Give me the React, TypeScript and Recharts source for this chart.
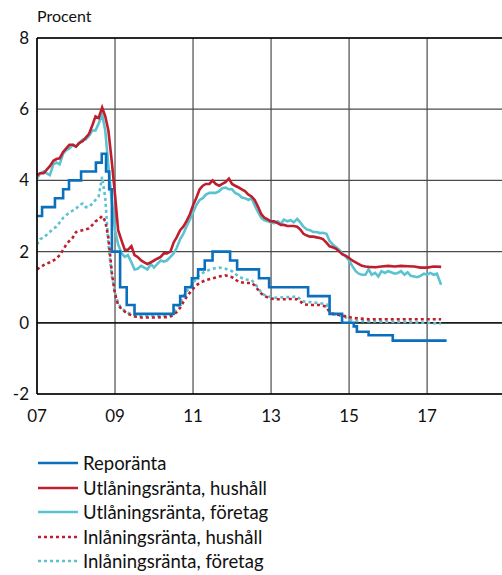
import { LineChart, Line, XAxis, YAxis, CartesianGrid, ReferenceLine } from 'recharts'

// Räntor, procent. Punkter: [år, värde].
const reporanta: [number, number][] = [
  [2007.0, 3.0], [2007.13, 3.25], [2007.46, 3.5], [2007.67, 3.75], [2007.82, 4.0],
  [2008.13, 4.25], [2008.51, 4.5], [2008.66, 4.75], [2008.77, 4.25], [2008.85, 3.75],
  [2008.92, 2.0], [2009.13, 1.0], [2009.3, 0.5], [2009.5, 0.25], [2010.5, 0.5],
  [2010.67, 0.75], [2010.8, 1.0], [2010.97, 1.25], [2011.13, 1.5], [2011.3, 1.75],
  [2011.5, 2.0], [2011.95, 1.75], [2012.13, 1.5], [2012.69, 1.25], [2012.95, 1.0],
  [2013.95, 0.75], [2014.5, 0.25], [2014.82, 0.0], [2015.12, -0.1], [2015.2, -0.25],
  [2015.5, -0.35], [2016.12, -0.5], [2017.5, -0.5],
]

const utlHushall: [number, number][] = [
  [2007.0, 4.15], [2007.08, 4.2], [2007.17, 4.2], [2007.25, 4.3], [2007.33, 4.4],
  [2007.42, 4.55], [2007.5, 4.6], [2007.58, 4.62], [2007.67, 4.8], [2007.75, 4.9],
  [2007.83, 5.0], [2007.92, 5.0], [2008.0, 4.95], [2008.08, 5.05], [2008.17, 5.1],
  [2008.25, 5.2], [2008.33, 5.3], [2008.42, 5.55], [2008.5, 5.8], [2008.58, 5.75],
  [2008.67, 6.05], [2008.75, 5.8], [2008.83, 5.4], [2008.92, 4.5], [2009.0, 3.6],
  [2009.08, 2.6], [2009.17, 2.3], [2009.25, 2.05], [2009.33, 2.05], [2009.42, 2.15],
  [2009.5, 1.9], [2009.58, 1.85], [2009.67, 1.75], [2009.75, 1.7], [2009.83, 1.65],
  [2009.92, 1.7], [2010.0, 1.75], [2010.08, 1.8], [2010.17, 1.85], [2010.25, 1.95],
  [2010.33, 1.95], [2010.42, 2.0], [2010.5, 2.25], [2010.58, 2.4], [2010.67, 2.6],
  [2010.75, 2.7], [2010.83, 2.85], [2010.92, 3.05], [2011.0, 3.3], [2011.08, 3.5],
  [2011.17, 3.75], [2011.25, 3.85], [2011.33, 3.9], [2011.42, 3.9], [2011.5, 4.0],
  [2011.58, 3.9], [2011.67, 3.85], [2011.75, 3.9], [2011.83, 3.95], [2011.92, 4.05],
  [2012.0, 3.9], [2012.08, 3.85], [2012.17, 3.8], [2012.25, 3.75], [2012.33, 3.7],
  [2012.42, 3.6], [2012.5, 3.55], [2012.58, 3.45], [2012.67, 3.25], [2012.75, 3.05],
  [2012.83, 2.95], [2012.92, 2.9], [2013.0, 2.85], [2013.08, 2.85], [2013.17, 2.8],
  [2013.25, 2.75], [2013.33, 2.75], [2013.42, 2.72], [2013.5, 2.72], [2013.58, 2.72],
  [2013.67, 2.7], [2013.75, 2.62], [2013.83, 2.5], [2013.92, 2.45], [2014.0, 2.42],
  [2014.08, 2.42], [2014.17, 2.4], [2014.25, 2.38], [2014.33, 2.35], [2014.42, 2.25],
  [2014.5, 2.15], [2014.58, 2.12], [2014.67, 2.08], [2014.75, 2.0], [2014.83, 1.92],
  [2014.92, 1.88], [2015.0, 1.82], [2015.08, 1.75], [2015.17, 1.7], [2015.25, 1.65],
  [2015.33, 1.6], [2015.42, 1.58], [2015.5, 1.57], [2015.67, 1.56], [2015.83, 1.58],
  [2016.0, 1.6], [2016.17, 1.58], [2016.33, 1.6], [2016.5, 1.59], [2016.67, 1.58],
  [2016.83, 1.55], [2017.0, 1.55], [2017.17, 1.58], [2017.36, 1.57],
]

const utlForetag: [number, number][] = [
  [2007.0, 4.05], [2007.08, 4.2], [2007.17, 4.25], [2007.25, 4.2], [2007.33, 4.15],
  [2007.42, 4.45], [2007.5, 4.5], [2007.58, 4.45], [2007.67, 4.75], [2007.75, 4.85],
  [2007.83, 4.9], [2007.92, 5.0], [2008.0, 4.95], [2008.08, 5.05], [2008.17, 5.15],
  [2008.25, 5.15], [2008.33, 5.25], [2008.42, 5.4], [2008.5, 5.4], [2008.58, 5.6],
  [2008.67, 5.85], [2008.75, 5.4], [2008.83, 4.4], [2008.92, 3.4], [2009.0, 2.6],
  [2009.08, 2.2], [2009.17, 1.95], [2009.25, 1.85], [2009.33, 1.9], [2009.42, 1.7],
  [2009.5, 1.5], [2009.58, 1.52], [2009.67, 1.6], [2009.75, 1.55], [2009.83, 1.5],
  [2009.92, 1.65], [2010.0, 1.55], [2010.08, 1.65], [2010.17, 1.75], [2010.25, 1.72],
  [2010.33, 1.75], [2010.42, 1.85], [2010.5, 1.95], [2010.58, 2.1], [2010.67, 2.35],
  [2010.75, 2.5], [2010.83, 2.7], [2010.92, 2.9], [2011.0, 3.1], [2011.08, 3.3],
  [2011.17, 3.45], [2011.25, 3.5], [2011.33, 3.6], [2011.42, 3.65], [2011.5, 3.65],
  [2011.58, 3.65], [2011.67, 3.7], [2011.75, 3.78], [2011.83, 3.8], [2011.92, 3.75],
  [2012.0, 3.75], [2012.08, 3.65], [2012.17, 3.6], [2012.25, 3.52], [2012.33, 3.5],
  [2012.42, 3.45], [2012.5, 3.5], [2012.58, 3.3], [2012.67, 3.1], [2012.75, 2.95],
  [2012.83, 2.88], [2012.92, 2.85], [2013.0, 2.82], [2013.08, 2.8], [2013.17, 2.85],
  [2013.25, 2.78], [2013.33, 2.9], [2013.42, 2.85], [2013.5, 2.88], [2013.58, 2.82],
  [2013.67, 2.92], [2013.75, 2.82], [2013.83, 2.7], [2013.92, 2.62], [2014.0, 2.6],
  [2014.08, 2.55], [2014.17, 2.55], [2014.25, 2.52], [2014.33, 2.53], [2014.42, 2.5],
  [2014.5, 2.3], [2014.58, 2.2], [2014.67, 2.12], [2014.75, 2.05], [2014.83, 1.95],
  [2014.92, 1.85], [2015.0, 1.75], [2015.08, 1.6], [2015.17, 1.45], [2015.25, 1.38],
  [2015.33, 1.35], [2015.42, 1.35], [2015.5, 1.5], [2015.58, 1.35], [2015.67, 1.4],
  [2015.75, 1.3], [2015.83, 1.45], [2015.92, 1.4], [2016.0, 1.45], [2016.08, 1.42],
  [2016.17, 1.38], [2016.25, 1.4], [2016.33, 1.45], [2016.42, 1.35], [2016.5, 1.42],
  [2016.58, 1.32], [2016.67, 1.3], [2016.75, 1.28], [2016.83, 1.32], [2016.92, 1.38],
  [2017.0, 1.35], [2017.08, 1.4], [2017.17, 1.35], [2017.25, 1.38], [2017.36, 1.07],
]

const inlHushall: [number, number][] = [
  [2007.0, 1.5], [2007.17, 1.62], [2007.33, 1.7], [2007.5, 1.8], [2007.58, 1.9],
  [2007.67, 2.05], [2007.75, 2.2], [2007.83, 2.3], [2007.92, 2.4], [2008.0, 2.55],
  [2008.17, 2.6], [2008.33, 2.65], [2008.42, 2.75], [2008.5, 2.85], [2008.58, 2.9],
  [2008.67, 3.0], [2008.75, 2.85], [2008.83, 2.4], [2008.92, 1.4], [2009.0, 0.8],
  [2009.08, 0.5], [2009.17, 0.38], [2009.33, 0.25], [2009.5, 0.18], [2009.67, 0.15],
  [2010.0, 0.15], [2010.33, 0.16], [2010.42, 0.18], [2010.5, 0.22], [2010.58, 0.3],
  [2010.67, 0.42], [2010.75, 0.58], [2010.83, 0.72], [2010.92, 0.85], [2011.0, 0.95],
  [2011.08, 1.05], [2011.17, 1.12], [2011.33, 1.2], [2011.5, 1.25], [2011.67, 1.3],
  [2011.83, 1.33], [2012.0, 1.28], [2012.17, 1.15], [2012.33, 1.12], [2012.5, 1.12],
  [2012.58, 1.05], [2012.67, 0.92], [2012.75, 0.82], [2012.83, 0.75], [2013.0, 0.68],
  [2013.17, 0.66], [2013.33, 0.66], [2013.5, 0.67], [2013.67, 0.66], [2013.75, 0.6],
  [2013.83, 0.52], [2014.0, 0.5], [2014.25, 0.5], [2014.42, 0.45], [2014.5, 0.3],
  [2014.58, 0.25], [2014.75, 0.22], [2014.92, 0.18], [2015.08, 0.14], [2015.25, 0.12],
  [2015.5, 0.1], [2016.0, 0.1], [2016.5, 0.1], [2017.0, 0.1], [2017.36, 0.1],
]

const inlForetag: [number, number][] = [
  [2007.0, 2.2], [2007.08, 2.35], [2007.17, 2.4], [2007.33, 2.55], [2007.42, 2.65],
  [2007.5, 2.7], [2007.67, 2.95], [2007.83, 3.1], [2008.0, 3.2], [2008.08, 3.3],
  [2008.17, 3.35], [2008.25, 3.25], [2008.33, 3.25], [2008.42, 3.35], [2008.5, 3.45],
  [2008.58, 3.55], [2008.67, 4.1], [2008.75, 3.5], [2008.83, 2.2], [2008.92, 1.3],
  [2009.0, 0.85], [2009.08, 0.55], [2009.17, 0.4], [2009.33, 0.28], [2009.5, 0.22],
  [2009.67, 0.2], [2010.0, 0.2], [2010.33, 0.2], [2010.42, 0.22], [2010.5, 0.28],
  [2010.58, 0.4], [2010.67, 0.58], [2010.75, 0.75], [2010.83, 0.88], [2010.92, 1.0],
  [2011.0, 1.1], [2011.08, 1.25], [2011.17, 1.35], [2011.33, 1.45], [2011.5, 1.52],
  [2011.67, 1.55], [2011.83, 1.52], [2012.0, 1.45], [2012.17, 1.3], [2012.33, 1.22],
  [2012.5, 1.2], [2012.58, 1.1], [2012.67, 0.98], [2012.75, 0.85], [2012.83, 0.78],
  [2013.0, 0.72], [2013.17, 0.7], [2013.33, 0.72], [2013.5, 0.72], [2013.67, 0.74],
  [2013.75, 0.66], [2013.83, 0.6], [2014.0, 0.58], [2014.25, 0.55], [2014.42, 0.52],
  [2014.5, 0.32], [2014.58, 0.25], [2014.75, 0.22], [2014.92, 0.15], [2015.0, 0.08],
  [2015.17, 0.05], [2015.5, 0.04], [2016.0, 0.03], [2016.5, 0.02], [2017.0, 0.0],
  [2017.36, -0.02],
]

const xTicks = [2007, 2009, 2011, 2013, 2015, 2017]
const yTicks = [-2, 0, 2, 4, 6, 8]

const FONT = 'Lato, "Noto Sans", sans-serif'
const BLUE = '#0a6fbd'
const RED = '#be1e2d'
const CYAN = '#5bc2d0'

// ordning = ritordning (bakifrån), legenden visas i egen ordning nedan
const SERIES = [
  { key: 'inlForetag', name: 'Inlåningsränta, företag', points: inlForetag, color: CYAN, dash: '3 3', step: false },
  { key: 'inlHushall', name: 'Inlåningsränta, hushåll', points: inlHushall, color: RED, dash: '3 3', step: false },
  { key: 'utlForetag', name: 'Utlåningsränta, företag', points: utlForetag, color: CYAN, dash: undefined, step: false },
  { key: 'utlHushall', name: 'Utlåningsränta, hushåll', points: utlHushall, color: RED, dash: undefined, step: false },
  { key: 'repo', name: 'Reporänta', points: reporanta, color: BLUE, dash: undefined, step: true },
]

const LEGEND_ORDER = ['repo', 'utlHushall', 'utlForetag', 'inlHushall', 'inlForetag']

export default function App() {
  return (
    <div style={{ position: 'absolute', left: 0, top: 0, width: 502, height: 575, background: '#fff', fontFamily: FONT }}>
      <div style={{ position: 'absolute', left: 37, top: 6, fontSize: 16, color: '#111' }}>Procent</div>
      <div style={{ position: 'absolute', left: 0, top: 0 }}>
        <LineChart width={502} height={430} margin={{ top: 38, right: 0, bottom: 0, left: 0 }}>
          <CartesianGrid stroke="#4a4a4a" strokeWidth={1.2} verticalValues={xTicks} />
          <XAxis
            type="number"
            dataKey="x"
            domain={[2007, 2018.92]}
            ticks={xTicks}
            allowDataOverflow
            tickFormatter={(v: number) => String(v).slice(2)}
            tickLine={false}
            axisLine={{ stroke: '#000', strokeWidth: 1.5 }}
            tick={{ fill: '#111', fontSize: 17, fontFamily: FONT }}
            height={36}
            tickMargin={10}
          />
          <YAxis
            type="number"
            domain={[-2, 8]}
            ticks={yTicks}
            tickLine={false}
            axisLine={{ stroke: '#000', strokeWidth: 1.5 }}
            tick={{ fill: '#111', fontSize: 17, fontFamily: FONT }}
            width={37}
          />
          <ReferenceLine y={0} stroke="#000" strokeWidth={1.2} />
          <ReferenceLine y={8} stroke="#000" strokeWidth={1.5} />
          {SERIES.map((s) => (
            <Line
              key={s.key}
              data={s.points.map(([x, y]) => ({ x, y }))}
              dataKey="y"
              type={s.step ? 'stepAfter' : 'linear'}
              stroke={s.color}
              strokeWidth={2.6}
              strokeDasharray={s.dash}
              dot={false}
              isAnimationActive={false}
            />
          ))}
        </LineChart>
      </div>
      <div style={{ position: 'absolute', left: 38, top: 451 }}>
        {LEGEND_ORDER.map((k) => {
          const s = SERIES.find((d) => d.key === k)!
          return (
            <div key={k} style={{ display: 'flex', alignItems: 'center', height: 24.5 }}>
              <svg width={42} height={6} style={{ marginRight: 3 }}>
                <line x1={0} y1={3} x2={40} y2={3} stroke={s.color} strokeWidth={2.6} strokeDasharray={s.dash} />
              </svg>
              <span style={{ fontSize: 18.5, color: '#111', whiteSpace: 'nowrap' }}>{s.name}</span>
            </div>
          )
        })}
      </div>
    </div>
  )
}
